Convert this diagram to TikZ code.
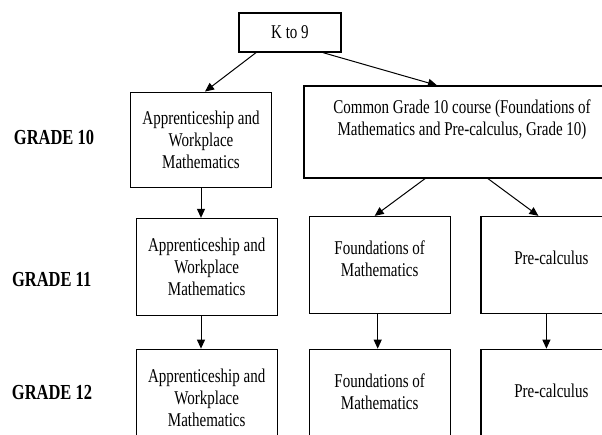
\documentclass[tikz,border=0pt]{standalone}
\usepackage{fontspec}
\setmainfont{Liberation Serif}[FakeStretch=0.77]
\usetikzlibrary{arrows.meta}
\tikzset{
	box/.style={draw, line width=1.3pt, minimum width=141pt, minimum height=97pt, align=center, inner sep=2pt, font=\fontsize{19.5}{22}\selectfont},
	grade/.style={font=\bfseries\fontsize{21.4}{24}\selectfont},
	arr/.style={-{Triangle[length=9pt,width=8pt]}, line width=1pt}
}
\begin{document}
\begin{tikzpicture}[x=1pt,y=1pt]
				\useasboundingbox (0,0) rectangle (602,-434);
				\node[box, minimum width=102pt, minimum height=39pt] (k9) at (290,-32.5) {K to 9};
				\node[box, minimum height=95pt] (app10) at (201,-139.7) {Apprenticeship and\\ Workplace\\ Mathematics};
				\node[box, minimum width=316pt, minimum height=92pt] (common) at (462,-132) {Common Grade 10 course (Foundations of\\ Mathematics and Pre-calculus, Grade 10)\\[7pt] \mbox{}};
				\node[box] (app11) at (206.7,-267) {Apprenticeship and\\ Workplace\\ Mathematics};
				\node[box] (fnd11) at (379.7,-265) {Foundations of\\ Mathematics\\[-10pt] \mbox{}};
				\node[box] (pre11) at (551.4,-265) {Pre-calculus\\[-8pt] \mbox{}};
				\node[box] (app12) at (206.7,-397.8) {Apprenticeship and\\ Workplace\\ Mathematics};
				\node[box] (fnd12) at (379.7,-397.8) {Foundations of\\ Mathematics\\[-10pt] \mbox{}};
				\node[box] (pre12) at (551.4,-397.8) {Pre-calculus\\[-8pt] \mbox{}};
				\node[grade] (g10) at (54,-137.3) {GRADE 10};
				\node[grade] (g11) at (51.7,-279.3) {GRADE 11};
				\node[grade] (g12) at (52,-392.7) {GRADE 12};
				\draw[arr] ([xshift=-34pt]k9.south) -- ([xshift=4pt]app10.north);
				\draw[arr] ([xshift=33pt]k9.south) -- ([xshift=-25pt]common.north);
				\draw[arr] ([xshift=-37pt]common.south) -- ([xshift=-5pt]fnd11.north);
				\draw[arr] ([xshift=26pt]common.south) -- ([xshift=-13pt]pre11.north);
				\draw[arr] (app10.south) -- (app10.south |- app11.north);
				\draw[arr] (app11.south -| app10.south) -- (app12.north -| app10.south);
				\draw[arr] ([xshift=-2pt]fnd11.south) -- ([xshift=-2pt]fnd12.north);
				\draw[arr] ([xshift=-5pt]pre11.south) -- ([xshift=-5pt]pre12.north);
\end{tikzpicture}
\end{document}
